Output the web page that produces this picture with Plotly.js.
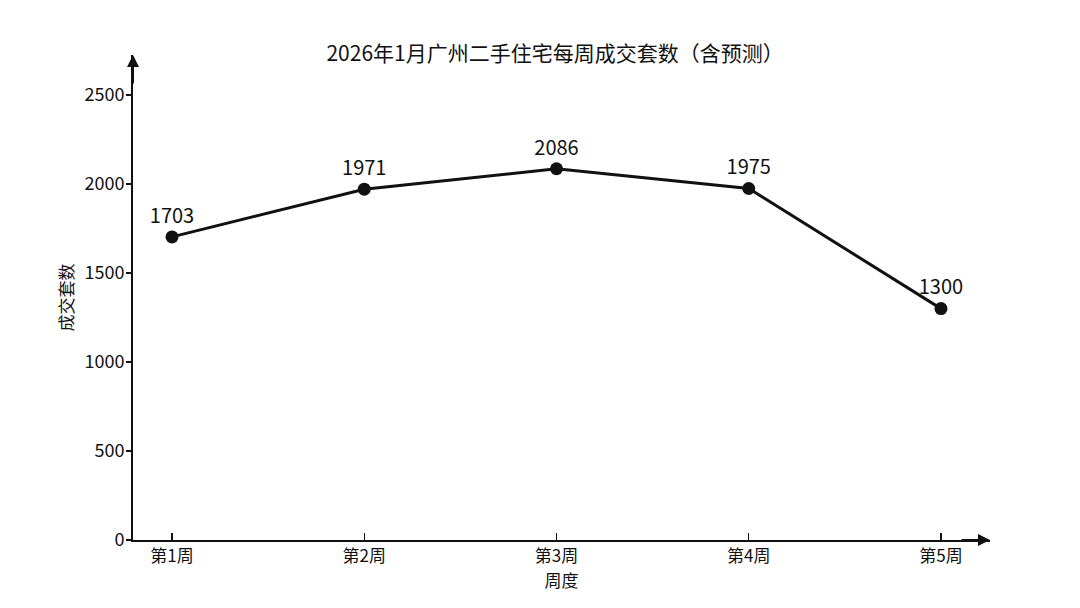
<!DOCTYPE html>
<html>
<head>
<meta charset="utf-8">
<script src="https://cdn.plot.ly/plotly-3.0.1.min.js"></script>
<style>html,body{margin:0;padding:0;background:#fff;}#chart{width:1080px;height:608px;}</style>
</head>
<body>
<div id="chart"></div>
<script>
const weeks = ["第1周", "第2周", "第3周", "第4周", "第5周"];
const deals = [1703, 1971, 2086, 1975, 1300];
const yTicks = [0, 500, 1000, 1500, 2000, 2500];

const FONT = '"Noto Sans CJK SC", "Noto Sans", sans-serif';
const INK = '#111111';

const trace = {
  x: weeks.map((w, i) => i),
  y: deals,
  type: 'scatter',
  mode: 'lines+markers+text',
  text: deals.map(String),
  textposition: 'top center',
  textfont: {family: FONT, size: 20, color: INK},
  line: {color: INK, width: 3},
  marker: {color: INK, size: 13},
  cliponaxis: false,
  hoverinfo: 'none'
};

const layout = {
  width: 1080,
  height: 608,
  margin: {l: 133, r: 90, t: 55, b: 68},
  paper_bgcolor: '#ffffff',
  plot_bgcolor: '#ffffff',
  showlegend: false,
  font: {family: FONT, color: INK},
  title: {
    text: '2026年1月广州二手住宅每周成交套数（含预测）',
    font: {family: FONT, size: 21, color: INK},
    xref: 'container', x: 0.514, xanchor: 'center',
    yref: 'container', y: 0.912, yanchor: 'middle'
  },
  xaxis: {
    range: [-0.203, 4.255],
    tickmode: 'array',
    tickvals: weeks.map((w, i) => i),
    ticktext: weeks,
    ticks: 'inside', ticklen: 7, tickwidth: 1.2, tickcolor: INK,
    showline: true, linecolor: INK, linewidth: 2,
    showgrid: false, zeroline: false,
    tickfont: {family: FONT, size: 17, color: INK},
    title: {text: '周度', font: {family: FONT, size: 17, color: INK}, standoff: 8},
    fixedrange: true
  },
  yaxis: {
    range: [0, 2725],
    tickmode: 'array',
    tickvals: yTicks,
    ticktext: yTicks.map(String),
    ticks: 'outside', ticklen: 5, tickwidth: 1.2, tickcolor: INK,
    ticklabelstandoff: -2,
    showline: true, linecolor: INK, linewidth: 2,
    showgrid: false, zeroline: false,
    tickfont: {family: FONT, size: 18, color: INK},
    title: {text: '成交套数', font: {family: FONT, size: 17, color: INK}, standoff: 6},
    fixedrange: true
  },
  annotations: [
    {xref: 'paper', yref: 'paper', x: 0, y: 1, ax: 0, ay: 30, text: '',
     showarrow: true, arrowhead: 2, arrowsize: 1.2, arrowwidth: 2, arrowcolor: INK},
    {xref: 'paper', yref: 'paper', x: 1, y: 0, ax: -30, ay: 0, text: '',
     showarrow: true, arrowhead: 2, arrowsize: 1.2, arrowwidth: 2, arrowcolor: INK}
  ]
};

Plotly.newPlot('chart', [trace], layout, {displayModeBar: false, staticPlot: true});
</script>
</body>
</html>
